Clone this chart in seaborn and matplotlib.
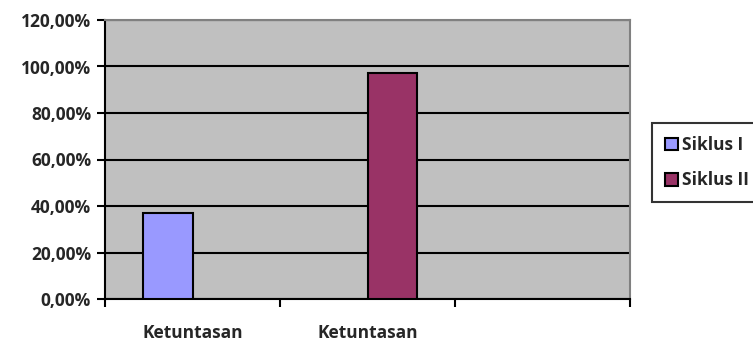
import matplotlib
matplotlib.use("Agg")
import matplotlib.pyplot as plt
import seaborn as sns
import pandas as pd
import numpy as np

# ---- data ----
categories = ["Ketuntasan", "Ketuntasan ", " "]
category_labels = ["Ketuntasan", "Ketuntasan", ""]
series_names = ["Siklus I", "Siklus II"]
siklus_1 = [36.8, np.nan, np.nan]
siklus_2 = [np.nan, 97.4, np.nan]
y_ticks = [0, 20, 40, 60, 80, 100, 120]
y_tick_labels = ["0,00%", "20,00%", "40,00%", "60,00%", "80,00%", "100,00%", "120,00%"]
colors = ["#9999FF", "#993366"]

rows = []
for c, v in zip(categories, siklus_1):
    rows.append({"kategori": c, "siklus": series_names[0], "nilai": v})
for c, v in zip(categories, siklus_2):
    rows.append({"kategori": c, "siklus": series_names[1], "nilai": v})
df = pd.DataFrame(rows)

sns.set_theme(style="white")
plt.rcParams["font.family"] = ["Open Sans", "DejaVu Sans"]
plt.rcParams["font.weight"] = "bold"

FS = 12.5

fig = plt.figure(figsize=(7.53, 3.43), dpi=100)
ax = fig.add_axes([105 / 753, 1 - 299 / 343, 525 / 753, 279 / 343])
ax.set_facecolor("#C0C0C0")

sns.barplot(data=df, x="kategori", y="nilai", hue="siklus", order=categories,
            hue_order=series_names, palette=colors, width=0.57,
            edgecolor="black", linewidth=1.5, saturation=1, ax=ax, zorder=3)

ax.set_xlim(-0.5, 2.5)
ax.set_ylim(0, 120)
ax.set_yticks(y_ticks)
ax.set_yticklabels(y_tick_labels, fontsize=FS, fontweight="bold")
ax.yaxis.grid(True, color="black", linewidth=1.5, zorder=1)
ax.set_axisbelow(True)

# category boundary ticks
ax.set_xticks([-0.5, 0.5, 1.5, 2.5])
ax.set_xticklabels([])
ax.set_xticks([0, 1, 2], minor=True)
ax.set_xticklabels(category_labels, minor=True, fontsize=FS, fontweight="bold")
ax.tick_params(axis="x", which="major", direction="out", length=6, width=1.5, color="black", bottom=True)
ax.tick_params(axis="x", which="minor", length=0, pad=18)
ax.tick_params(axis="y", direction="out", length=6, width=1.5, color="black", left=True, pad=4)

ax.set_xlabel("")
ax.set_ylabel("")

for s in ["left", "bottom"]:
    ax.spines[s].set_color("black")
    ax.spines[s].set_linewidth(1.5)
for s in ["top", "right"]:
    ax.spines[s].set_color("#808080")
    ax.spines[s].set_linewidth(1.5)
    ax.spines[s].set_visible(True)

handles, labels = ax.get_legend_handles_labels()
if ax.get_legend() is not None:
    ax.get_legend().remove()
leg = fig.legend(handles, labels, loc="upper left",
                 bbox_to_anchor=(652 / 753, 1 - 123 / 343), borderaxespad=0,
                 frameon=True, fancybox=False, prop={"weight": "bold", "size": FS},
                 handlelength=0.75, handleheight=0.75, handletextpad=0.25,
                 labelspacing=1.0, borderpad=0.75)
leg.get_frame().set_edgecolor("black")
leg.get_frame().set_linewidth(1.5)

fig.savefig("out.png", dpi=100, facecolor="white")
